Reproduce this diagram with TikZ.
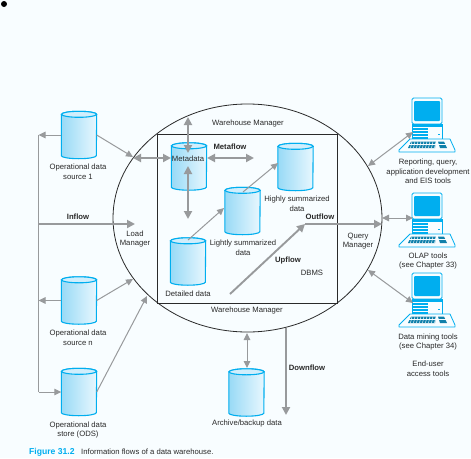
\documentclass[tikz,border=0pt]{standalone}
\usepackage{fontspec}
\setmainfont{Liberation Sans}
\usetikzlibrary{arrows.meta}
\definecolor{FlowPaper}{HTML}{F8FDFF}
\definecolor{FlowCyan}{HTML}{00AEEF}
\definecolor{FlowGrey}{HTML}{989A9C}
\definecolor{FlowInk}{HTML}{2A2A2A}
\definecolor{FlowShadeL}{HTML}{98DAF6}
\definecolor{FlowShadeR}{HTML}{E8F7FE}
\tikzset{
  lbl/.style={text=FlowInk,font=\fontsize{7.7}{9.7}\selectfont,align=center,inner sep=0pt},
  boldlbl/.style={lbl,font=\fontsize{7.7}{9.7}\selectfont\bfseries},
  figlbl/.style={lbl,text=FlowCyan,font=\fontsize{8.6}{10}\selectfont\bfseries},
  thinflow/.style={draw=FlowGrey,line width=1pt,-{Triangle[length=7pt,width=6.5pt]}},
  thinboth/.style={draw=FlowGrey,line width=1pt,{Triangle[length=7pt,width=6.5pt]}-{Triangle[length=7pt,width=6.5pt]}},
  thickflow/.style={draw=FlowGrey,line width=1.9pt,-{Triangle[length=8pt,width=8pt]}},
  thickboth/.style={draw=FlowGrey,line width=1.9pt,{Triangle[length=8pt,width=8pt]}-{Triangle[length=8pt,width=8pt]}},
  storebox/.style={minimum width=35pt,minimum height=47pt,inner sep=0pt},
  storebody/.style={draw=FlowCyan,line width=1.1pt,left color=FlowShadeL,right color=FlowShadeR},
  storetop/.style={draw=FlowCyan,line width=1.1pt,fill=FlowShadeR!70!FlowShadeL},
  pics/terminal/.style={code={
    \draw[FlowCyan,line width=.8pt,fill=FlowPaper,rounded corners=1.5pt] (13,0) rectangle (43,26);
    \fill[FlowCyan,rounded corners=1pt] (15,3) rectangle (41,23);
    \draw[FlowCyan,line width=.8pt,fill=FlowPaper] (13,26) rectangle (43,41);
    \foreach \s in {27.5,31,34,37,40} {
      \draw[FlowCyan,line width=1.1pt] (13,\s) -- (29,\s);
    }
    \fill[FlowCyan] (13,26) rectangle (43,28.5);
    \fill[FlowCyan] (39,35.5) rectangle (41,37);
    \draw[FlowCyan,line width=.8pt,fill=FlowPaper,line join=round] (11,41) -- (51,41) -- (56,52) -- (56,54) -- (0,54) -- (0,52) -- cycle;
    \fill[FlowCyan!65!FlowInk] (12,43.5) -- (37,43.5) -- (36,50) -- (9,50) -- cycle;
    \fill[FlowCyan!65!FlowInk] (39,43.5) -- (45,43.5) -- (48,50) -- (41,50) -- cycle;
    \foreach \k in {13,16,...,37} {
      \draw[FlowPaper,line width=.5pt] (\k,43.5) -- (\k-1.5,50);
    }
    \draw[FlowPaper,line width=.5pt] (9,46.7) -- (48,46.7);
  }}
}
\begin{document}
\begin{tikzpicture}[x=1pt,y=-1pt]
    \useasboundingbox (0,0) rectangle (471,458);
    \fill[FlowPaper] (0,0) rectangle (471,458);
    \fill[black] (4,4) circle (3);
    \draw[FlowInk,line width=.8pt] (247.5,218) ellipse [x radius=134.5pt,y radius=114pt];
    \draw[FlowInk,line width=.8pt] (157,134) rectangle (337,303);
    \foreach \n/\x/\y in {srcone/79/135,srcn/79/300.5,ods/79/392,metadata/189/166.5,lightly/242.5/211,highly/295.5/167,detailed/188/261.5,archive/246.5/392.5} {
      \node[storebox] (\n) at (\x,\y) {};
      \draw[storebody] ([yshift=-3pt]\n.north west) -- ([yshift=3pt]\n.south west)
        arc[start angle=180,end angle=360,x radius=17.5pt,y radius=3pt]
        -- ([yshift=-3pt]\n.north east)
        arc[start angle=0,end angle=180,x radius=17.5pt,y radius=3pt] -- cycle;
      \draw[storetop] ([yshift=-3pt]\n.north) ellipse [x radius=17.5pt,y radius=3pt];
    }
    \pic (reporting) at (399,98) {terminal};
    \pic (olap) at (399,193) {terminal};
    \pic (mining) at (399,273) {terminal};
    \foreach \n/\x/\y in {
      rail1/38.5/135,rail2/38.5/300.5,rail3/38.5/392,railA/38.5/224,
      load/135/224,wall1/133/157,wallL/133/158,metaL/171/158,metaR/207/158,metaflowEnd/254/158,
      wall2/133/279,wall3/147/296,topA/188/117,topB/188/153,midA/188/166,midB/188/219,
      detTop/188/240,liteIn/224/208,liteTop/243/192,highIn/278/163,
      upA/230/294,upB/305/224,outEnd/382/224,
      repA/368/166,repB/413/132,olapA/382/218,olapB/413/218,minA/368/270,minB/413/303,
      arcA/247/333,arcB/247/368,downA/286/328,downB/286/415
    } {
      \coordinate (\n) at (\x,\y);
    }
    \draw[FlowGrey,line width=1pt] (rail1) -- (rail3);
    \draw[thinflow] (srcone.east) -- (wall1);
    \draw[thinflow] (srcone.west) -- (rail1);
    \draw[thinflow] (srcn.west) -- (rail2);
    \draw[thinflow] (rail3) -- (ods.west);
    \draw[thinflow] (srcn.east) -- (wall2);
    \draw[thinflow] (ods.east) -- (wall3);
    \draw[thickflow] (railA) -- (load);
    \draw[thickboth] (wallL) -- (metaL);
    \draw[thickboth] (topA) -- (topB);
    \draw[thickboth] (midA) -- (midB);
    \draw[thickboth] (metaR) -- (metaflowEnd);
    \draw[thinflow] (detTop) -- (liteIn);
    \draw[thinflow] (liteTop) -- (highIn);
    \draw[thickflow] (upA) -- (upB);
    \draw[thickflow] (upB) -- (outEnd);
    \draw[thinboth] (repA) -- (repB);
    \draw[thinboth] (olapA) -- (olapB);
    \draw[thinboth] (minA) -- (minB);
    \draw[thinboth] (arcA) -- (arcB);
    \draw[thickflow] (downA) -- (downB);
    \node[lbl] (lblone) at (78,172) {Operational data\\source 1};
    \node[lbl] (lbln) at (78,338) {Operational data\\source n};
    \node[lbl] (lblods) at (78,430) {Operational data\\store (ODS)};
    \node[lbl] (lblload) at (135,239) {Load\\Manager};
    \node[lbl] (whtop) at (248,124) {Warehouse Manager};
    \node[lbl] (whbot) at (247,311) {Warehouse Manager};
    \node[lbl] (lblmeta) at (188,159) {Metadata};
    \node[lbl] (lbllite) at (243,248) {Lightly summarized\\data};
    \node[lbl] (lblhigh) at (297,203.5) {Highly summarized\\data};
    \node[lbl] (lbldbms) at (312,273) {DBMS};
    \node[lbl] (lblquery) at (358,241) {Query\\Manager};
    \node[lbl] (lbldet) at (188,294) {Detailed data};
    \node[lbl] (lblarc) at (247,424) {Archive/backup data};
    \node[lbl] (lblrep) at (428,171.5) {Reporting, query,\\application development\\and EIS tools};
    \node[lbl] (lblolap) at (428,261) {OLAP tools\\(see Chapter 33)};
    \node[lbl] (lblmin) at (428,342) {Data mining tools\\(see Chapter 34)};
    \node[lbl] (lblend) at (428,369) {End-user\\access tools};
    \node[boldlbl] (inflow) at (78,217) {Inflow};
    \node[boldlbl] (metaflow) at (230,147) {Metaflow};
    \node[boldlbl] (outflow) at (320,217) {Outflow};
    \node[boldlbl] (upflow) at (288,261) {Upflow};
    \node[boldlbl] (downflow) at (307,368) {Downflow};
    \node[figlbl,anchor=west] (figno) at (29,452) {Figure 31.2};
    \node[lbl,anchor=west] (caption) at (81,452) {Information flows of a data warehouse.};
  \end{tikzpicture}
\end{document}
